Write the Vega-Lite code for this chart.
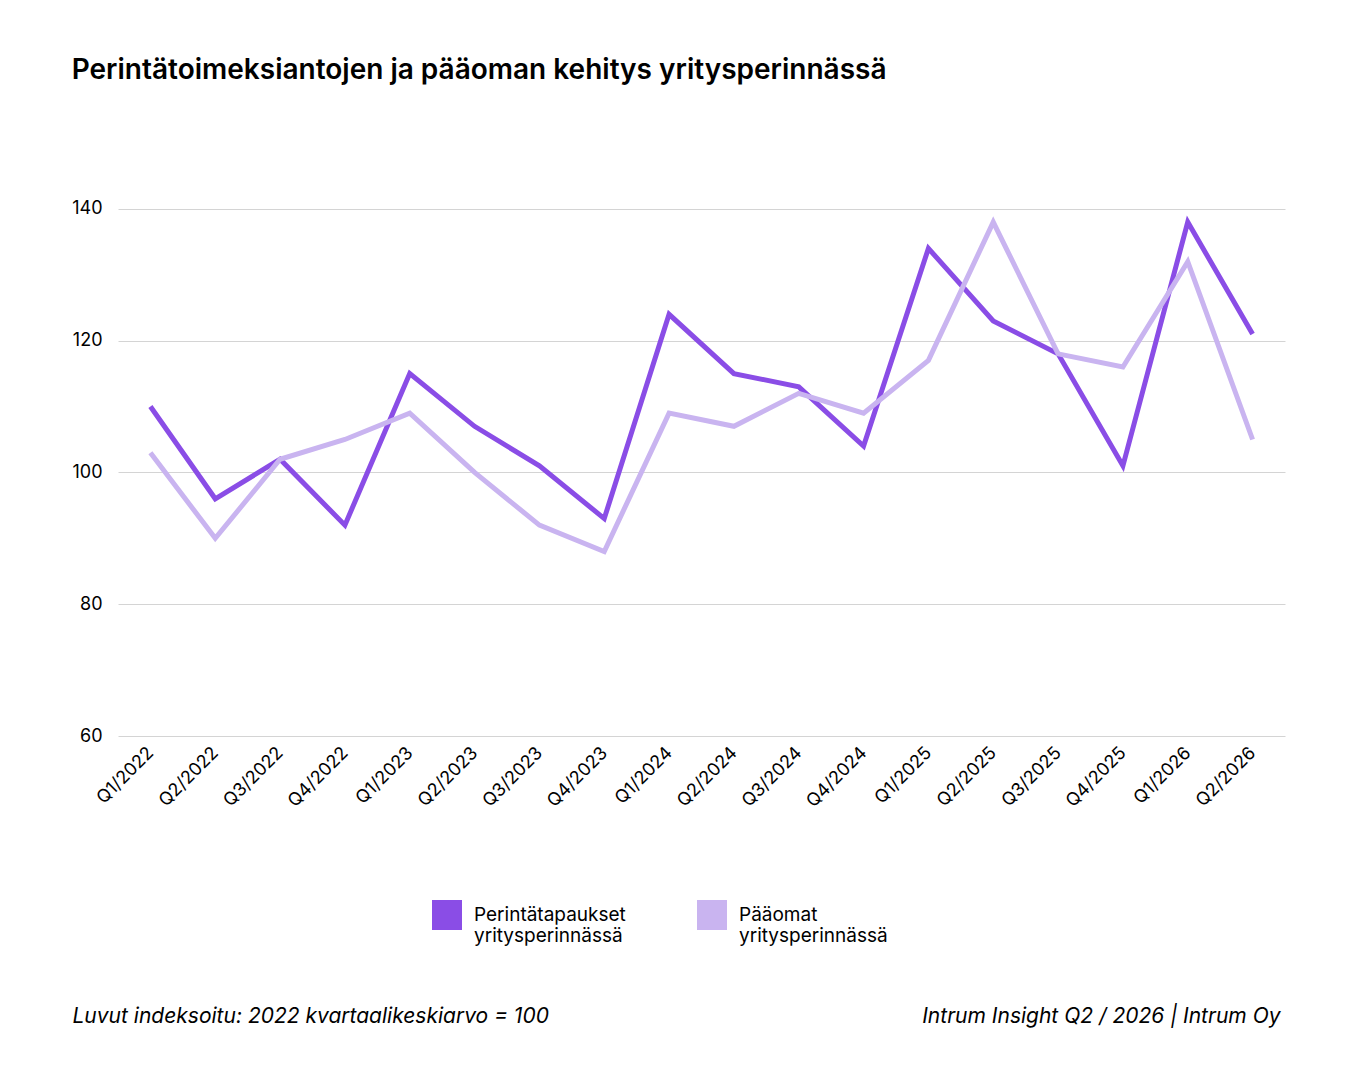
{
  "$schema": "https://vega.github.io/schema/vega-lite/v6.json",
  "autosize": "none",
  "width": 1167,
  "height": 593,
  "padding": {"left": 118, "top": 143, "right": 65, "bottom": 344},
  "background": "white",
  "title": {
    "text": "Perintätoimeksiantojen ja pääoman kehitys yritysperinnässä",
    "anchor": "start", "dx": 0, "offset": 58,
    "font": "Inter", "fontSize": 28, "fontWeight": 600, "color": "#000"
  },
  "data": {"values": [
    {"q": "Q1/2022", "s": "Perintätapaukset yritysperinnässä", "v": 110},
    {"q": "Q2/2022", "s": "Perintätapaukset yritysperinnässä", "v": 96},
    {"q": "Q3/2022", "s": "Perintätapaukset yritysperinnässä", "v": 102},
    {"q": "Q4/2022", "s": "Perintätapaukset yritysperinnässä", "v": 92},
    {"q": "Q1/2023", "s": "Perintätapaukset yritysperinnässä", "v": 115},
    {"q": "Q2/2023", "s": "Perintätapaukset yritysperinnässä", "v": 107},
    {"q": "Q3/2023", "s": "Perintätapaukset yritysperinnässä", "v": 101},
    {"q": "Q4/2023", "s": "Perintätapaukset yritysperinnässä", "v": 93},
    {"q": "Q1/2024", "s": "Perintätapaukset yritysperinnässä", "v": 124},
    {"q": "Q2/2024", "s": "Perintätapaukset yritysperinnässä", "v": 115},
    {"q": "Q3/2024", "s": "Perintätapaukset yritysperinnässä", "v": 113},
    {"q": "Q4/2024", "s": "Perintätapaukset yritysperinnässä", "v": 104},
    {"q": "Q1/2025", "s": "Perintätapaukset yritysperinnässä", "v": 134},
    {"q": "Q2/2025", "s": "Perintätapaukset yritysperinnässä", "v": 123},
    {"q": "Q3/2025", "s": "Perintätapaukset yritysperinnässä", "v": 118},
    {"q": "Q4/2025", "s": "Perintätapaukset yritysperinnässä", "v": 101},
    {"q": "Q1/2026", "s": "Perintätapaukset yritysperinnässä", "v": 138},
    {"q": "Q2/2026", "s": "Perintätapaukset yritysperinnässä", "v": 121},
    {"q": "Q1/2022", "s": "Pääomat yritysperinnässä", "v": 103},
    {"q": "Q2/2022", "s": "Pääomat yritysperinnässä", "v": 90},
    {"q": "Q3/2022", "s": "Pääomat yritysperinnässä", "v": 102},
    {"q": "Q4/2022", "s": "Pääomat yritysperinnässä", "v": 105},
    {"q": "Q1/2023", "s": "Pääomat yritysperinnässä", "v": 109},
    {"q": "Q2/2023", "s": "Pääomat yritysperinnässä", "v": 100},
    {"q": "Q3/2023", "s": "Pääomat yritysperinnässä", "v": 92},
    {"q": "Q4/2023", "s": "Pääomat yritysperinnässä", "v": 88},
    {"q": "Q1/2024", "s": "Pääomat yritysperinnässä", "v": 109},
    {"q": "Q2/2024", "s": "Pääomat yritysperinnässä", "v": 107},
    {"q": "Q3/2024", "s": "Pääomat yritysperinnässä", "v": 112},
    {"q": "Q4/2024", "s": "Pääomat yritysperinnässä", "v": 109},
    {"q": "Q1/2025", "s": "Pääomat yritysperinnässä", "v": 117},
    {"q": "Q2/2025", "s": "Pääomat yritysperinnässä", "v": 138},
    {"q": "Q3/2025", "s": "Pääomat yritysperinnässä", "v": 118},
    {"q": "Q4/2025", "s": "Pääomat yritysperinnässä", "v": 116},
    {"q": "Q1/2026", "s": "Pääomat yritysperinnässä", "v": 132},
    {"q": "Q2/2026", "s": "Pääomat yritysperinnässä", "v": 105}
  ]},
  "mark": {"type": "line", "strokeWidth": 5, "strokeCap": "butt"},
  "encoding": {
    "x": {
      "field": "q", "type": "ordinal", "sort": null,
      "scale": {"type": "point", "padding": 0.5},
      "axis": {
        "title": "Luvut indeksoitu: 2022 kvartaalikeskiarvo = 100",
        "titleFont": "Inter", "titleFontSize": 21, "titleFontStyle": "italic", "titleFontWeight": "normal",
        "titleAnchor": "start", "titleAlign": "left", "titleBaseline": "alphabetic",
        "titleX": -46, "titleY": 286, "titleColor": "#000",
        "labelAngle": -45, "labelAlign": "right", "labelBaseline": "middle",
        "labelFont": "Inter", "labelFontSize": 18, "labelColor": "#000", "labelPadding": 14,
        "ticks": false, "domain": false, "grid": false
      }
    },
    "y": {
      "field": "v", "type": "quantitative",
      "scale": {"domain": [60, 150], "nice": false},
      "axis": {
        "values": [60, 80, 100, 120, 140],
        "title": "Intrum Insight Q2 / 2026 | Intrum Oy",
        "titleAngle": 0, "titleX": 1162, "titleY": 879, "titleAlign": "right", "titleBaseline": "alphabetic",
        "titleFont": "Inter", "titleFontSize": 21, "titleFontStyle": "italic", "titleFontWeight": "normal", "titleColor": "#000",
        "labelFont": "Inter", "labelFontSize": 18, "labelColor": "#000", "labelPadding": 16,
        "ticks": false, "domain": false, "gridColor": "#d4d4d4"
      }
    },
    "color": {
      "field": "s", "type": "nominal",
      "scale": {"domain": ["Perintätapaukset yritysperinnässä", "Pääomat yritysperinnässä"], "range": ["#8a4de6", "#c9b4f0"]},
      "legend": {
        "title": null, "orient": "none", "legendX": 314, "legendY": 757,
        "direction": "horizontal", "columns": 2, "columnPadding": 71,
        "symbolType": "square", "symbolSize": 900, "symbolStrokeWidth": 0, "symbolOpacity": 1,
        "labelFont": "Inter", "labelFontSize": 19, "labelColor": "#000", "labelOffset": 12,
        "labelExpr": "datum.label == 'Pääomat yritysperinnässä' ? ['Pääomat', 'yritysperinnässä'] : ['Perintätapaukset', 'yritysperinnässä']",
        "encode": {"symbols": {"update": {"fill": {"scale": "color", "field": "value"}, "fillOpacity": {"value": 1}}}}
      }
    },
    "order": {"field": "s", "sort": "descending"}
  },
  "config": {"view": {"stroke": null}}
}
